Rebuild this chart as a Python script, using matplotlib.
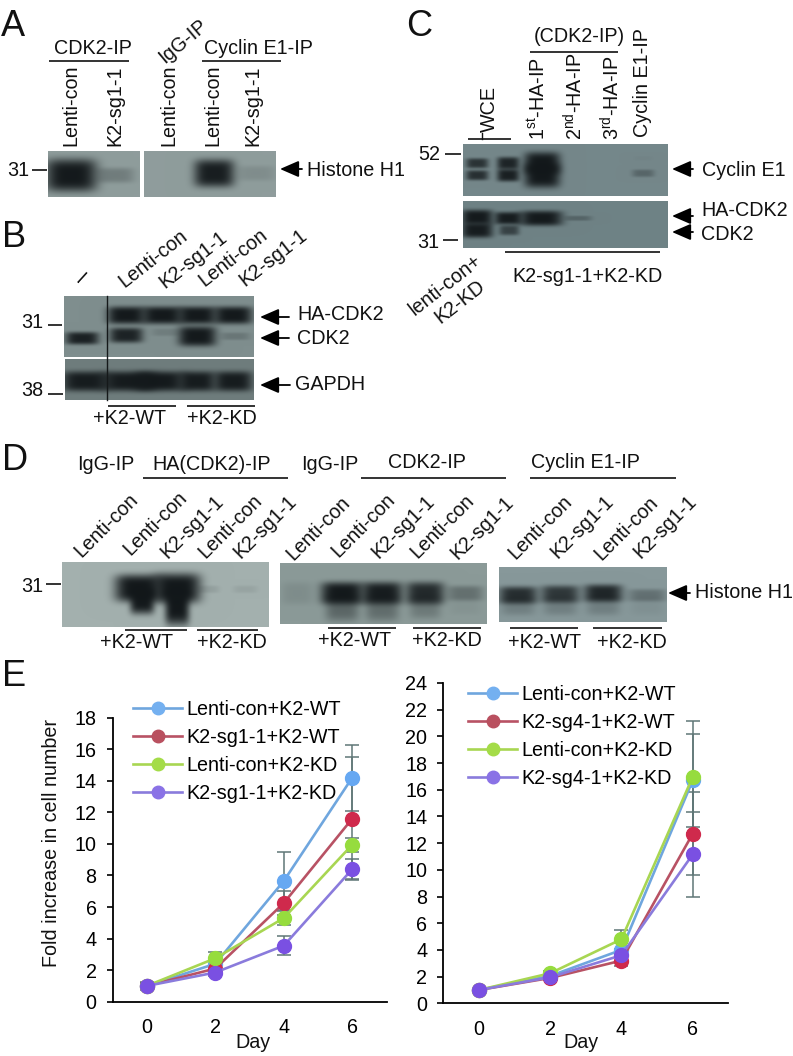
import numpy as np
import matplotlib
matplotlib.use('Agg')
import matplotlib.pyplot as plt
from matplotlib.lines import Line2D

plt.rcParams['font.family'] = ['Liberation Sans', 'DejaVu Sans']
plt.rcParams['mathtext.default'] = 'regular'
FS = 14.2

# growth curves
days = [0, 2, 4, 6]
left_names = ['Lenti-con+K2-WT', 'K2-sg1-1+K2-WT', 'Lenti-con+K2-KD', 'K2-sg1-1+K2-KD']
right_names = ['Lenti-con+K2-WT', 'K2-sg4-1+K2-WT', 'Lenti-con+K2-KD', 'K2-sg4-1+K2-KD']

left_means = [[1.0, 2.4, 7.65, 14.2], [1.0, 2.1, 6.25, 11.6], [1.0, 2.75, 5.3, 9.95], [1.0, 1.85, 3.55, 8.4]]
left_errs = [[0.25, 0.3, 1.85, 2.1], [0.2, 0.3, 0.75, 3.9], [0.2, 0.4, 0.45, 0.45], [0.2, 0.25, 0.62, 0.62]]
right_means = [[1.0, 2.05, 4.0, 16.7], [1.0, 1.9, 3.2, 12.7], [1.0, 2.25, 4.8, 16.95], [1.0, 1.95, 3.6, 11.15]]
right_errs = [[0.1, 0.15, 0.5, 3.5], [0.1, 0.15, 0.4, 3.1], [0.1, 0.15, 0.7, 4.2], [0.1, 0.15, 0.5, 3.2]]

line_cols = ['#6fa6de', '#b85264', '#a8d652', '#8a7bdc']
mark_cols = ['#66a8f2', '#cf2a4c', '#96dc3e', '#7a50e2']
legend_cols = ['#74b0f0', '#b9505f', '#a4dc48', '#8a72e6']
err_col = '#5f7676'

# band darkness for each blot, lane by lane
a_histone1 = [0.98, 0.24]
a_histone2 = [0.95, 0.12]
b_ha = [0.98, 0.98, 0.98, 0.98]
b_cdk2 = [0.92, 0.9, 0.14, 0.98, 0.2]
b_gapdh = [0.95, 0.96, 0.97, 0.95, 0.95]
c_upper = [0.75, 0.88, 0.98, 0.03]
c_lower = [0.78, 0.92, 0.98, 0.3]
c_ha = [0.97, 0.95, 0.97, 0.28]
c_cdk2 = [0.95, 0.6]
d_gel1 = [0.99, 0.99, 0.1, 0.08]
d_gel2 = [0.1, 0.98, 0.95, 0.85, 0.32]
d_gel3 = [0.82, 0.75, 0.88, 0.3]


def px_axes(fig, x0, x1, ytop, ybot):
    return fig.add_axes([x0 / 793, 1 - ybot / 1056, (x1 - x0) / 793, (ybot - ytop) / 1056])


def lanes(xs, y, hw, hh, ds):
    out = []
    for i in range(len(ds)):
        w = hw[i] if isinstance(hw, list) else hw
        h = hh[i] if isinstance(hh, list) else hh
        yy = y[i] if isinstance(y, list) else y
        out.append((xs[i], yy, w, h, ds[i]))
    return out


def blot(ax, box, bg, bands):
    x0, x1, y0, y1 = box
    X, Y = np.meshgrid(np.arange(x0, x1, 0.5), np.arange(y0, y1, 0.5))
    keep = np.ones_like(X)
    for cx, cy, hw, hh, d in bands:
        keep = keep * (1 - d * np.exp(-np.abs((X - cx) / (hw * 1.12)) ** 4 - np.abs((Y - cy) / (hh * 1.25)) ** 4))
    dark = np.array([0.07, 0.09, 0.10])
    bg = np.array(matplotlib.colors.to_rgb(bg))
    img = dark + (bg - dark) * keep[..., None]
    ax.imshow(img, extent=(x0, x1, y1, y0), aspect='auto', interpolation='bilinear', zorder=1)


def t(ax, x, y, s, ha='center', rot=0, size=FS):
    ax.text(x, y, s, ha=ha, va='center', rotation=rot, rotation_mode='anchor', fontsize=size, color='#111111')


def rule(ax, x0, x1, y, lw=1.2):
    ax.plot([x0, x1], [y, y], color='#111111', lw=lw, solid_capstyle='butt', zorder=3)


def arrow(ax, tip, end, y):
    ax.annotate('', xy=(tip, y), xytext=(end, y),
                arrowprops=dict(arrowstyle='-|>,head_length=1.15,head_width=0.5', mutation_scale=10,
                                color='black', lw=1.3, shrinkA=0, shrinkB=0))


def curves(ax, means, errs, names, ymax, step, legend_at):
    for i in range(4):
        ax.errorbar(days, means[i], yerr=errs[i], fmt='none', ecolor=err_col, elinewidth=1.1,
                    capsize=4.8, capthick=1.1, zorder=2)
    for i in range(4):
        ax.plot(days, means[i], '-o', color=line_cols[i], lw=1.9, ms=10, mfc=mark_cols[i], mec=mark_cols[i], zorder=3 + i)
    ax.set_xlim(-1, 7)
    ax.set_ylim(0, ymax)
    ax.set_xticks(days)
    ax.set_yticks(range(0, ymax + 1, step))
    ax.spines['top'].set_visible(False)
    ax.spines['right'].set_visible(False)
    ax.spines['left'].set_linewidth(1.3)
    ax.spines['bottom'].set_linewidth(1.3)
    ax.patch.set_alpha(0)
    ax.tick_params(axis='y', length=4.5, width=1.2, pad=7, labelsize=FS)
    ax.tick_params(axis='x', length=0, pad=12, labelsize=FS)
    handles = [Line2D([], [], color=line_cols[i], lw=1.9, marker='o', ms=9, mfc=legend_cols[i], mec=legend_cols[i])
               for i in range(4)]
    ax.legend(handles, names, loc='upper left', bbox_to_anchor=(legend_at[0] / 793, 1 - legend_at[1] / 1056),
              bbox_transform=fig.transFigure, frameon=False, fontsize=FS, borderpad=0, borderaxespad=0,
              handlelength=2.5, handletextpad=0.2, labelspacing=0.46)


fig = plt.figure(figsize=(7.93, 10.56), dpi=100)
bg = fig.add_axes([0, 0, 1, 1])
bg.axis('off')

# panel letters
for s, x, y in [('A', 1, 36), ('B', 2, 247), ('C', 406, 36), ('D', 2, 470), ('E', 2, 686)]:
    bg.text(x, y, s, fontsize=26, ha='left', va='baseline', color='#111111')

# A
blot(bg, (48, 140, 151, 197), '#8f9d9c', lanes([71, 115], 175, [23, 17], [13, 6], a_histone1))
blot(bg, (144, 276, 151, 197), '#8f9d9c', lanes([214, 256], 173, [18, 17], [11, 6], a_histone2))
t(bg, 93, 48, 'CDK2-IP')
t(bg, 258, 48, 'Cyclin E1-IP')
rule(bg, 49, 129, 61)
rule(bg, 202, 281, 61)
for x, s in zip([71, 115, 169, 213, 253], ['Lenti-con', 'K2-sg1-1', 'Lenti-con', 'Lenti-con', 'K2-sg1-1']):
    bg.text(x, 146, s, rotation=90, ha='center', va='bottom', fontsize=FS, color='#111111')
t(bg, 183, 41, 'IgG-IP', rot=40)
t(bg, 29, 170, '31', ha='right')
rule(bg, 32, 47, 170)
arrow(bg, 280, 302, 169)
t(bg, 307, 171, 'Histone H1', ha='left')

# B
blot(bg, (64, 254, 296, 357), '#7f8e8e',
     lanes([126, 162, 197, 233], 315, [17, 18, 17, 17], 7, b_ha)
     + lanes([82, 126, 165, 197, 235], [338, 335, 332, 336, 336], [15, 15, 12, 17, 13], [5, 6, 3, 8, 3], b_cdk2))
blot(bg, (65, 254, 359, 400), '#6f7d7d',
     lanes([85, 128, 160, 197, 233], 381, [21, 24, 22, 16, 17], 8, b_gapdh))
bg.plot([107, 107], [296, 400], color='#15191a', lw=1.0, zorder=3)
t(bg, 83, 277, '–', rot=48, size=18)
t(bg, 153, 259, 'Lenti-con', rot=38)
t(bg, 193, 260, 'K2-sg1-1', rot=38)
t(bg, 233, 258, 'Lenti-con', rot=38)
t(bg, 273, 258, 'K2-sg1-1', rot=38)
t(bg, 43, 322, '31', ha='right')
rule(bg, 48, 62, 325)
t(bg, 43, 390, '38', ha='right')
rule(bg, 48, 63, 394)
arrow(bg, 260, 289, 317)
arrow(bg, 260, 289, 338)
arrow(bg, 260, 290, 385)
t(bg, 297, 315, 'HA-CDK2', ha='left')
t(bg, 297, 338, 'CDK2', ha='left')
t(bg, 295, 385, 'GAPDH', ha='left')
rule(bg, 108, 176, 406)
rule(bg, 187, 255, 406)
t(bg, 130, 419, '+K2-WT')
t(bg, 222, 419, '+K2-KD')

# C
c_x = [477, 508, 542, 643]
blot(bg, (463, 668, 144, 196), '#75878a',
     lanes(c_x, [163, 163, 163, 158], [10, 10, 16, 9], [4, 5, 9, 2], c_upper)
     + lanes(c_x, [175, 175, 175, 173], [10, 10, 16, 10], [4, 5, 10, 3], c_lower))
blot(bg, (463, 668, 201, 248), '#6f8285',
     lanes([477, 508, 541, 578], [217, 218, 218, 218], [14, 12, 19, 12], [6, 5, 6, 2], c_ha)
     + lanes([477, 509], 230, [14, 9], [6, 4], c_cdk2))
t(bg, 579, 37, '(CDK2-IP)')
rule(bg, 530, 618, 52)
rule(bg, 468, 511, 139)
bg.plot([482, 482], [133, 139], color='#111111', lw=1.0)
bg.text(489, 132, 'WCE', rotation=90, ha='center', va='bottom', fontsize=FS, color='#111111')
for x, y, s in [(538, 140, '1$^{st}$-HA-IP'), (575, 140, '2$^{nd}$-HA-IP'), (612, 140, '3$^{rd}$-HA-IP'),
                (643, 137, 'Cyclin E1-IP')]:
    bg.text(x, y, s, rotation=90, ha='center', va='bottom', fontsize=FS, color='#111111')
t(bg, 440, 155, '52', ha='right')
rule(bg, 445, 461, 154)
t(bg, 439, 242, '31', ha='right')
rule(bg, 443, 458, 240)
arrow(bg, 672, 693, 169)
arrow(bg, 672, 693, 216)
arrow(bg, 672, 693, 232)
t(bg, 702, 171, 'Cyclin E1', ha='left')
t(bg, 701, 211, 'HA-CDK2', ha='left')
t(bg, 701, 235, 'CDK2', ha='left')
rule(bg, 505, 660, 252)
t(bg, 587, 277, 'K2-sg1-1+K2-KD')
t(bg, 445, 285, 'lenti-con+', rot=38)
t(bg, 460, 302, 'K2-KD', rot=38)

# D
g1_x = [138, 177, 208, 245]
blot(bg, (62, 269, 562, 627), '#a3b0ae',
     lanes(g1_x, [588, 588, 589, 589], [21, 21, 10, 11], [11, 12, 3, 3], d_gel1)
     + lanes([142, 177], [600, 606], [11, 11], [11, 15], [0.98, 0.99]))
g2_x = [297, 342, 382, 425, 465]
blot(bg, (280, 487, 563, 624), '#8b9a98',
     lanes(g2_x, 593, [14, 19, 18, 17, 16], [9, 9, 9, 9, 6], d_gel2)
     + lanes(g2_x[1:], 606, [15, 15, 14, 14], [12, 12, 10, 7], [0.4, 0.35, 0.25, 0.05]))
g3_x = [518, 560, 603, 647]
blot(bg, (499, 667, 567, 622), '#87989a',
     lanes(g3_x, [595, 594, 593, 595], 17, [7, 7, 7, 5], d_gel3)
     + lanes(g3_x, 605, 15, 8, [0.2, 0.2, 0.2, 0.06]))
t(bg, 106, 464, 'IgG-IP')
t(bg, 212, 464, 'HA(CDK2)-IP')
rule(bg, 143, 288, 478)
t(bg, 330, 464, 'IgG-IP')
t(bg, 427, 463, 'CDK2-IP')
rule(bg, 361, 506, 478)
t(bg, 585, 462, 'Cyclin E1-IP')
rule(bg, 530, 676, 478)
d_labels = [(106, 525, 'Lenti-con'), (155, 523, 'Lenti-con'), (192, 527, 'K2-sg1-1'), (230, 526, 'Lenti-con'),
            (265, 527, 'K2-sg1-1'), (318, 528, 'Lenti-con'), (363, 525, 'Lenti-con'), (403, 527, 'K2-sg1-1'),
            (442, 526, 'Lenti-con'), (482, 528, 'K2-sg1-1'), (540, 527, 'Lenti-con'), (582, 527, 'K2-sg1-1'),
            (626, 528, 'Lenti-con'), (665, 527, 'K2-sg1-1')]
for x, y, s in d_labels:
    t(bg, x, y, s, rot=45)
t(bg, 43, 586, '31', ha='right')
rule(bg, 46, 61, 584)
arrow(bg, 668, 690, 593)
t(bg, 695, 593, 'Histone H1', ha='left')
for x0, x1, y in [(125, 187, 630), (197, 258, 630), (328, 396, 628), (413, 481, 628), (510, 578, 628), (593, 662, 628)]:
    rule(bg, x0, x1, y)
for x, y, s in [(137, 643, '+K2-WT'), (232, 643, '+K2-KD'), (355, 641, '+K2-WT'), (447, 641, '+K2-KD'),
                (545, 642, '+K2-WT'), (632, 642, '+K2-KD')]:
    t(bg, x, y, s)

# E
t(bg, 52, 843, 'Fold increase in cell number', rot=90)
t(bg, 253, 1042, 'Day')
t(bg, 581, 1043, 'Day')

bg.set_xlim(0, 793)
bg.set_ylim(1056, 0)

ax1 = px_axes(fig, 112.5, 386.5, 717.7, 1001.7)
curves(ax1, left_means, left_errs, left_names, 18, 2, (133, 700))
ax2 = px_axes(fig, 443.3, 728.3, 683, 1003.3)
curves(ax2, right_means, right_errs, right_names, 24, 2, (468, 685))

plt.savefig('out.png', dpi=100)
